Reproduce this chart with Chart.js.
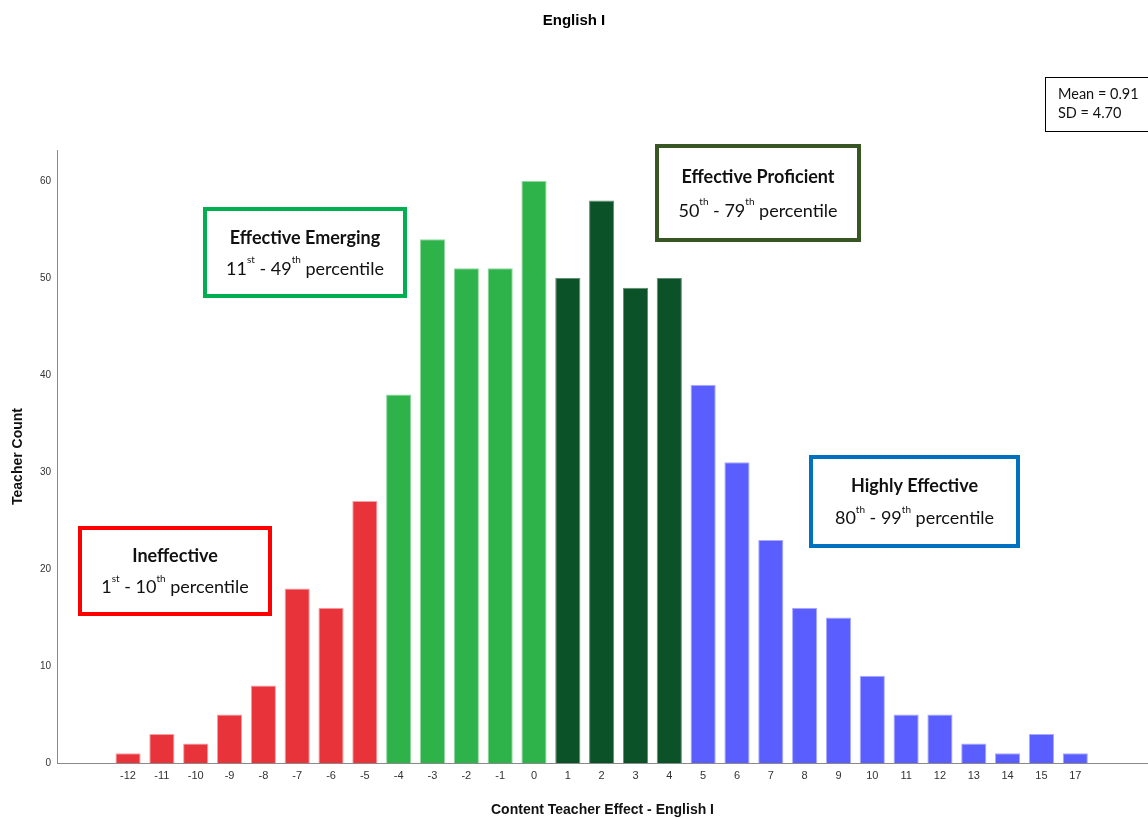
<!DOCTYPE html>
<html>
<head>
<meta charset="utf-8">
<script src="https://cdn.jsdelivr.net/npm/chart.js@4"></script>
<style>
  html, body { margin: 0; padding: 0; background: #fff; }
  #wrap { width: 1148px; height: 819px; position: relative; }
</style>
</head>
<body>
<div id="wrap"><canvas id="c" width="1148" height="819"></canvas></div>
<script>
// ---- data ----
const categories = ['-12','-11','-10','-9','-8','-7','-6','-5','-4','-3','-2','-1','0','1','2','3','4','5','6','7','8','9','10','11','12','13','14','15','17'];
const counts = [1,3,2,5,8,18,16,27,38,54,51,51,60,50,58,49,50,39,31,23,16,15,9,5,5,2,1,3,1];
const yTicks = [0,10,20,30,40,50,60];
const titleText = 'English I';
const xTitle = 'Content Teacher Effect - English I';
const yTitle = 'Teacher Count';
const statsLines = ['Mean = 0.91', 'SD = 4.70'];

// ---- styling helpers ----
function fillFor(v) {
  const n = Number(v);
  if (n <= -5) return '#E8333A';
  if (n <= 0) return '#2DB34A';
  if (n <= 4) return '#0B5229';
  return '#5A5EFF';
}
function edgeFor(v) {
  const n = Number(v);
  if (n <= -5) return '#F2A2A5';
  if (n <= 0) return '#8FD89E';
  if (n <= 4) return '#5E8F72';
  return '#A9ABFF';
}

// annotation boxes (pixel positions on canvas)
const boxes = [
  { x: 205, y: 209, w: 200, h: 87, color: '#00B050', title: 'Effective Emerging',
    sub: [['11',0],['st',1],[' - 49',0],['th',1],[' percentile',0]] },
  { x: 80, y: 528, w: 190, h: 86, color: '#FF0000', title: 'Ineffective',
    sub: [['1',0],['st',1],[' - 10',0],['th',1],[' percentile',0]] },
  { x: 657, y: 146, w: 202, h: 94, color: '#375623', title: 'Effective Proficient',
    sub: [['50',0],['th',1],[' - 79',0],['th',1],[' percentile',0]] },
  { x: 811, y: 457, w: 207, h: 89, color: '#0070C0', title: 'Highly Effective',
    sub: [['80',0],['th',1],[' - 99',0],['th',1],[' percentile',0]] }
];

const annotPlugin = {
  id: 'annot',
  afterDraw(chart) {
    const ctx = chart.ctx;
    ctx.save();
    boxes.forEach(b => {
      ctx.fillStyle = '#fff';
      ctx.fillRect(b.x, b.y, b.w, b.h);
      ctx.strokeStyle = b.color;
      ctx.lineWidth = 4;
      ctx.strokeRect(b.x, b.y, b.w, b.h);
      const cx = b.x + b.w / 2;
      ctx.fillStyle = '#111';
      ctx.textBaseline = 'middle';
      ctx.textAlign = 'center';
      ctx.font = 'bold 18px Lato, "Open Sans", sans-serif';
      ctx.fillText(b.title, cx, b.y + b.h * 0.33);
      // superscript line
      const bigF = '18px Lato, "Open Sans", sans-serif';
      const smallF = '10px Lato, "Open Sans", sans-serif';
      let total = 0;
      b.sub.forEach(s => { ctx.font = s[1] ? smallF : bigF; total += ctx.measureText(s[0]).width; });
      let x = cx - total / 2;
      const yl = b.y + b.h * 0.69;
      ctx.textAlign = 'left';
      b.sub.forEach(s => {
        ctx.font = s[1] ? smallF : bigF;
        ctx.fillText(s[0], x, s[1] ? yl - 9 : yl);
        x += ctx.measureText(s[0]).width;
      });
    });
    // stats box
    ctx.fillStyle = '#fff';
    ctx.fillRect(1045.5, 77.5, 110, 54);
    ctx.strokeStyle = '#000';
    ctx.lineWidth = 1;
    ctx.strokeRect(1045.5, 77.5, 110, 54);
    ctx.fillStyle = '#111';
    ctx.font = '14.5px Lato, "Open Sans", sans-serif';
    ctx.textAlign = 'left';
    ctx.textBaseline = 'middle';
    ctx.fillText(statsLines[0], 1058, 94);
    ctx.fillText(statsLines[1], 1058, 113);
    ctx.restore();
  }
};

const points = counts.map((c, i) => ({ x: i, y: c }));

new Chart(document.getElementById('c'), {
  type: 'bar',
  data: {
    datasets: [{
      data: points,
      backgroundColor: categories.map(fillFor),
      borderColor: categories.map(edgeFor),
      borderWidth: 1,
      categoryPercentage: 0.8,
      barPercentage: 0.93
    }]
  },
  options: {
    responsive: false,
    animation: false,
    events: [],
    layout: { padding: { left: 0, right: 0, top: 0, bottom: 0 } },
    plugins: {
      legend: { display: false },
      tooltip: { enabled: false },
      title: {
        display: true,
        text: titleText,
        color: '#000',
        font: { family: '"Liberation Sans", Arial, sans-serif', size: 15, weight: 'bold' },
        padding: { top: 12, bottom: 120 }
      }
    },
    scales: {
      x: {
        type: 'linear',
        offset: false,
        min: -2.1,
        max: 30.15,
        grid: { display: false, drawTicks: false, offset: false },
        border: { display: true, color: '#8a8a8a', width: 1 },
        afterFit(scale) { scale.height = 56; },
        afterBuildTicks(scale) {
          scale.ticks = categories.map((c, i) => ({ value: i }));
        },
        ticks: {
          autoSkip: false,
          maxRotation: 0,
          padding: 6,
          color: '#333',
          font: { family: '"Liberation Sans", Arial, sans-serif', size: 11 },
          callback: (v) => categories[v] !== undefined ? categories[v] : ''
        },
        title: {
          display: true,
          text: xTitle,
          color: '#111',
          font: { family: '"Liberation Sans", Arial, sans-serif', size: 14, weight: 'bold' },
          padding: { top: 9, bottom: 0 }
        }
      },
      y: {
        min: 0,
        max: 63.2,
        grid: { display: false, drawTicks: false },
        border: { display: true, color: '#8a8a8a', width: 1 },
        afterFit(scale) { scale.width = 57; },
        afterBuildTicks(scale) {
          scale.ticks = yTicks.map(v => ({ value: v }));
        },
        ticks: {
          padding: 6,
          color: '#333',
          font: { family: '"Liberation Sans", Arial, sans-serif', size: 10 }
        },
        title: {
          display: true,
          text: yTitle,
          color: '#111',
          font: { family: '"Liberation Sans", Arial, sans-serif', size: 14, weight: 'bold' },
          padding: { top: 10, bottom: 0 }
        }
      }
    }
  },
  plugins: [annotPlugin]
});
</script>
</body>
</html>
